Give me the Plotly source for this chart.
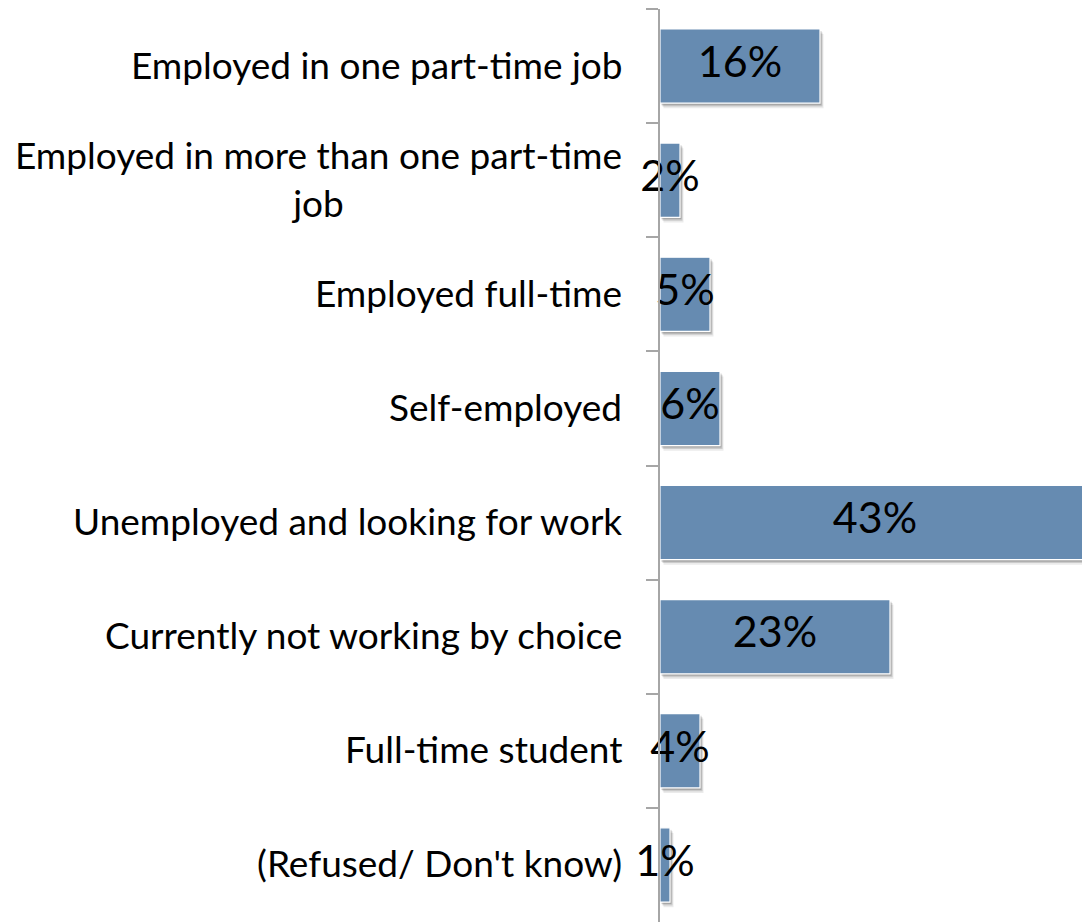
import plotly.graph_objects as go

categories = [
    "Employed in one part-time job",
    "Employed in more than one part-time<br>job",
    "Employed full-time",
    "Self-employed",
    "Unemployed and looking for work",
    "Currently not working by choice",
    "Full-time student",
    "(Refused/ Don't know)",
]
values = [16, 2, 5, 6, 43, 23, 4, 1]
value_labels = [f"{v}%" for v in values]

BAR = "#668BB1"
FONT = "Lato, 'Open Sans', sans-serif"
W, H = 1082, 922
LEFT = 660
TOP = 9
LABEL_SIZE = 37

fig = go.Figure()

# soft drop shadow under each bar
for dy, dx, op in [(0.045, 0.35, 0.10), (0.03, 0.25, 0.18), (0.018, 0.15, 0.25)]:
    fig.add_trace(go.Bar(
        y=categories, x=values, base=dx, orientation="h",
        width=0.65, offset=-0.325 + dy,
        marker=dict(color=f"rgba(60,60,60,{op})", line=dict(width=0)),
        hoverinfo="skip", showlegend=False,
    ))

fig.add_trace(go.Bar(
    y=categories, x=values, orientation="h",
    width=0.65, offset=-0.325,
    marker=dict(color=BAR, line=dict(color="white", width=1.2)),
    showlegend=False,
))

# value labels centred on each bar
fig.add_trace(go.Scatter(
    y=categories, x=[v / 2 for v in values], mode="text",
    text=value_labels, textposition="middle center",
    textfont=dict(family=FONT, size=43, color="black"),
    cliponaxis=False, showlegend=False, hoverinfo="skip",
))

# category labels: lines centred, block right-aligned to the axis
for c in categories:
    fig.add_annotation(
        x=0, xref="paper", y=c, yref="y", text=c,
        xanchor="right", yanchor="middle", align="center",
        xshift=-36, yshift=2, showarrow=False,
        font=dict(family=FONT, size=LABEL_SIZE, color="black"),
    )

fig.update_yaxes(
    type="category", autorange="reversed", tickson="boundaries",
    showticklabels=False, showline=True, linecolor="#A6A6A6", linewidth=2,
    ticks="outside", ticklen=12, tickcolor="#A6A6A6", tickwidth=2,
    showgrid=False, zeroline=False,
)
fig.update_xaxes(range=[0, (W - LEFT) / 10], visible=False, showgrid=False)

fig.update_layout(
    width=W, height=H, barmode="overlay",
    margin=dict(l=LEFT, r=0, t=TOP, b=0),
    plot_bgcolor="white", paper_bgcolor="white",
)

fig.write_html("out.html")
